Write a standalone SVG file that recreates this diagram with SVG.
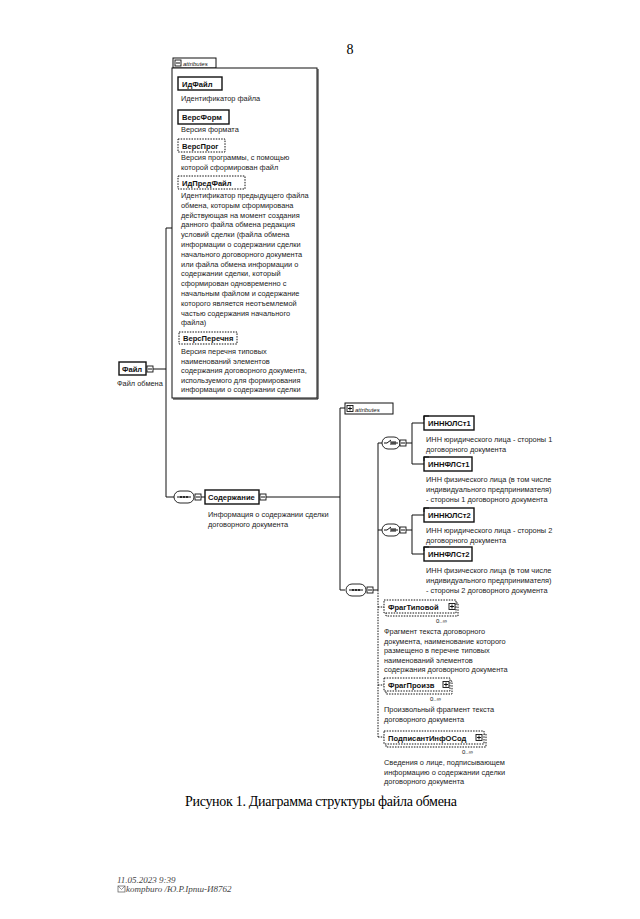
<svg xmlns="http://www.w3.org/2000/svg" width="640" height="919" viewBox="0 0 640 919">
<style>
text{font-family:"Liberation Sans",Arial,sans-serif;fill:#111}
.d{font-size:7.4px;fill:#222}
.b{font-size:7.6px;font-weight:bold}
.s{font-size:6px}
.box{fill:#fff;stroke:#111;stroke-width:1}
.req{fill:#fff;stroke:#111;stroke-width:1.4}
.opt{fill:#fff;stroke:#111;stroke-width:1;stroke-dasharray:1.5 1.2}
.ln{fill:none;stroke:#111;stroke-width:1}
.dot{fill:none;stroke:#111;stroke-width:1;stroke-dasharray:1.5 1.2}
.sym{fill:#fff;stroke:#111;stroke-width:0.9}
.cap{font-family:"Liberation Serif","Times New Roman",serif;font-size:14px;fill:#000}
.ft{font-family:"Liberation Serif","Times New Roman",serif;font-size:9px;font-style:italic;fill:#444}
</style>
<defs>
<g id="minus"><rect x="0" y="0" width="6" height="6" class="sym"/><path d="M1,3H5" class="ln" stroke-width="0.8"/></g>
<g id="plus"><rect x="0" y="0" width="6" height="6" class="sym"/><path d="M1,3H5M3,1V5" class="ln" stroke-width="0.8"/></g>
<g id="seq"><rect x="0" y="0" width="20" height="12" rx="6" class="sym" stroke-width="1.1"/><path d="M3,6H17" class="ln" stroke-width="0.8"/><circle cx="7" cy="6" r="0.9"/><circle cx="10" cy="6" r="0.9"/><circle cx="13" cy="6" r="0.9"/></g>
<g id="cho"><rect x="0" y="0" width="18" height="12" rx="6" class="sym" stroke-width="1.1"/><path d="M2,6H5L9,3M9,4V8M11,4V8M13,4V8M9,6H16" class="ln" stroke-width="0.8"/></g>
</defs>

<text x="350" y="54" class="cap" text-anchor="middle">8</text>

<g id="connectors">
<path d="M153,369H166M166,228V497M166,228H172M166,497H174M201,497H205" class="ln"/>
<path d="M266,497H340M340,408V590M340,408H345M340,590H345M373,590H378" class="ln"/>
<path d="M378,443V590M378,443H382M406,443H412M412,423V464M412,423H424M412,464H424" class="ln"/>
<path d="M378,530H382M406,530H412M412,515V554M412,515H424M412,554H424" class="ln"/>
<path d="M378,590V737M378,607H384M378,685H384M378,737H384" class="dot"/>
</g>

<g id="attributes1">
<rect x="173" y="58" width="43" height="10" class="box"/>
<use href="#minus" x="175" y="60"/>
<text x="183" y="66" class="s" font-style="italic">attributes</text>
<rect x="172" y="68" width="145" height="330" class="box"/>
<path d="M318,69V399H173" class="ln" stroke-width="1.2"/>
</g>

<g id="ИдФайл">
<rect x="178" y="77" width="44" height="13" class="req"/>
<text x="182" y="86.5" class="b">ИдФайл</text>
<text x="181" y="101" class="d">Идентификатор файла</text>
</g>
<g id="ВерсФорм">
<rect x="178" y="110" width="51" height="14" class="req"/>
<text x="182" y="120" class="b">ВерсФорм</text>
<text x="181" y="132" class="d">Версия формата</text>
</g>
<g id="ВерсПрог">
<rect x="178" y="139" width="47" height="13" class="opt"/>
<text x="182" y="148.5" class="b">ВерсПрог</text>
<text x="181" y="160" class="d">Версия программы, с помощью</text>
<text x="181" y="170" class="d">которой сформирован файл</text>
</g>
<g id="ИдПредФайл">
<rect x="178" y="176" width="67" height="13" class="opt"/>
<text x="182" y="185.5" class="b">ИдПредФайл</text>
<text class="d">
<tspan x="181" y="198">Идентификатор предыдущего файла</tspan>
<tspan x="181" y="207.8">обмена, которым сформирована</tspan>
<tspan x="181" y="217.6">действующая на момент создания</tspan>
<tspan x="181" y="227.4">данного файла обмена редакция</tspan>
<tspan x="181" y="237.2">условий сделки (файла обмена</tspan>
<tspan x="181" y="247">информации о содержании сделки</tspan>
<tspan x="181" y="256.8">начального договорного документа</tspan>
<tspan x="181" y="266.6">или файла обмена информации о</tspan>
<tspan x="181" y="276.4">содержании сделки, который</tspan>
<tspan x="181" y="286.2">сформирован одновременно с</tspan>
<tspan x="181" y="296">начальным файлом и содержание</tspan>
<tspan x="181" y="305.8">которого является неотъемлемой</tspan>
<tspan x="181" y="315.6">частью содержания начального</tspan>
<tspan x="181" y="325.4">файла)</tspan>
</text>
</g>
<g id="ВерсПеречня">
<rect x="179" y="332" width="58" height="12" class="opt"/>
<text x="183" y="341" class="b">ВерсПеречня</text>
<text class="d">
<tspan x="181" y="354">Версия перечня типовых</tspan>
<tspan x="181" y="363.5">наименований элементов</tspan>
<tspan x="181" y="373">содержания договорного документа,</tspan>
<tspan x="181" y="382.5">используемого для формирования</tspan>
<tspan x="181" y="392">информации о содержании сделки</tspan>
</text>
</g>

<g id="Файл">
<rect x="119" y="362" width="27" height="13" class="req"/>
<text x="122" y="371.5" class="b">Файл</text>
<use href="#minus" x="147" y="366"/>
<text x="117" y="386" class="d">Файл обмена</text>
</g>

<g id="seq1">
<use href="#seq" x="174" y="491"/>
<use href="#minus" x="195" y="494"/>
</g>

<g id="Содержание">
<rect x="205" y="490" width="54" height="14" class="req"/>
<text x="208" y="500" class="b">Содержание</text>
<use href="#minus" x="260" y="494"/>
<text x="208" y="517" class="d">Информация о содержании сделки</text>
<text x="208" y="527" class="d">договорного документа</text>
</g>

<g id="attributes2">
<rect x="345" y="403" width="48" height="11" class="box"/>
<use href="#plus" x="347" y="405.5"/>
<text x="355" y="411.5" class="s" font-style="italic">attributes</text>
</g>

<g id="seq2">
<use href="#seq" x="346" y="584"/>
<use href="#minus" x="367" y="587"/>
</g>

<g id="choice1">
<use href="#cho" x="382" y="437"/>
<use href="#minus" x="400" y="440"/>
</g>
<g id="choice2">
<use href="#cho" x="382" y="524"/>
<use href="#minus" x="400" y="527"/>
</g>

<g id="ИННЮЛСт1">
<rect x="424" y="416" width="50" height="14" class="req"/>
<path d="M424,416H429M424,416V420" class="ln" stroke-width="2"/>
<text x="428" y="426" class="b">ИННЮЛСт1</text>
<text x="426" y="442" class="d">ИНН юридического лица - стороны 1</text>
<text x="426" y="452" class="d">договорного документа</text>
</g>
<g id="ИННФЛСт1">
<rect x="424" y="457" width="48" height="14" class="req"/>
<path d="M424,457H429M424,457V461" class="ln" stroke-width="2"/>
<text x="428" y="467" class="b">ИННФЛСт1</text>
<text x="426" y="482" class="d">ИНН физического лица (в том числе</text>
<text x="426" y="492" class="d">индивидуального предпринимателя)</text>
<text x="426" y="502" class="d">- стороны 1 договорного документа</text>
</g>
<g id="ИННЮЛСт2">
<rect x="424" y="508" width="50" height="14" class="req"/>
<path d="M424,508H429M424,508V512" class="ln" stroke-width="2"/>
<text x="428" y="518" class="b">ИННЮЛСт2</text>
<text x="426" y="533" class="d">ИНН юридического лица - стороны 2</text>
<text x="426" y="543" class="d">договорного документа</text>
</g>
<g id="ИННФЛСт2">
<rect x="424" y="547" width="48" height="14" class="req"/>
<path d="M424,547H429M424,547V551" class="ln" stroke-width="2"/>
<text x="428" y="557" class="b">ИННФЛСт2</text>
<text x="426" y="573" class="d">ИНН физического лица (в том числе</text>
<text x="426" y="583" class="d">индивидуального предпринимателя)</text>
<text x="426" y="593" class="d">- стороны 2 договорного документа</text>
</g>

<g id="ФрагТиповой">
<rect x="386" y="603" width="72" height="13" class="opt"/>
<rect x="384" y="600" width="72" height="13" class="opt"/>
<text x="388" y="609.5" class="b">ФрагТиповой</text>
<use href="#plus" x="449" y="603.5"/>
<text x="436" y="623" class="s">0..∞</text>
<text class="d">
<tspan x="384" y="634">Фрагмент текста договорного</tspan>
<tspan x="384" y="643.5">документа, наименование которого</tspan>
<tspan x="384" y="653">размещено в перечне типовых</tspan>
<tspan x="384" y="662.5">наименований элементов</tspan>
<tspan x="384" y="672">содержания договорного документа</tspan>
</text>
</g>
<g id="ФрагПроизв">
<rect x="386" y="681" width="66" height="13" class="opt"/>
<rect x="384" y="678" width="66" height="13" class="opt"/>
<text x="388" y="687.5" class="b">ФрагПроизв</text>
<use href="#plus" x="443" y="681.5"/>
<text x="430" y="701" class="s">0..∞</text>
<text x="384" y="712" class="d">Произвольный фрагмент текста</text>
<text x="384" y="721.5" class="d">договорного документа</text>
</g>
<g id="ПодписантИнфОСод">
<rect x="386" y="734" width="100" height="13" class="opt"/>
<rect x="384" y="731" width="100" height="13" class="opt"/>
<text x="388" y="740.5" class="b">ПодписантИнфОСод</text>
<use href="#plus" x="476" y="734.5"/>
<text x="462" y="754" class="s">0..∞</text>
<text x="384" y="765" class="d">Сведения о лице, подписывающем</text>
<text x="384" y="774.5" class="d">информацию о содержании сделки</text>
<text x="384" y="784" class="d">договорного документа</text>
</g>

<text x="321" y="806" class="cap" text-anchor="middle" textLength="272">Рисунок 1. Диаграмма структуры файла обмена</text>

<text x="117" y="883" class="ft">11.05.2023 9:39</text>
<rect x="118" y="886" width="7" height="6" fill="none" stroke="#555" stroke-width="0.7"/>
<path d="M118,886L121.5,889.5L125,886" fill="none" stroke="#555" stroke-width="0.6"/>
<text x="126" y="892" class="ft">kompburo /Ю.Р.Ірпш-И8762</text>
</svg>
